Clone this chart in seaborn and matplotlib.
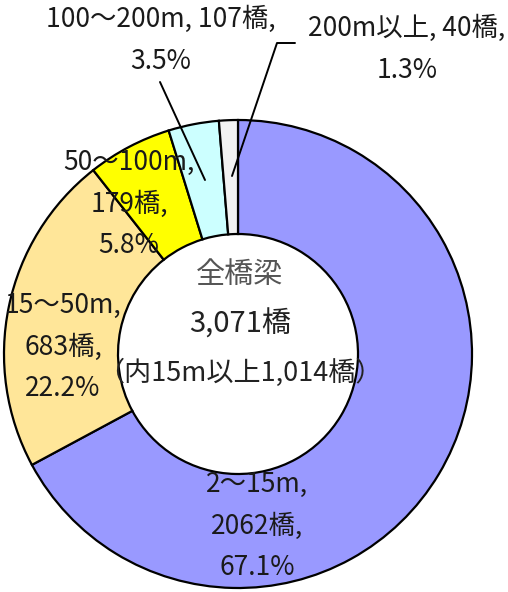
import numpy as np
import pandas as pd
import matplotlib.pyplot as plt
import seaborn as sns

# Bridge counts by length class
categories = ['2～15m', '15～50m', '50～100m', '100～200m', '200m以上']
counts = [2062, 683, 179, 107, 40]
shares = [67.1, 22.2, 5.8, 3.5, 1.3]
colors = ['#9999FF', '#FFE699', '#FFFF00', '#CCFFFF', '#F2F2F2']

center_title = '全橋梁'
center_total = '3,071橋'
center_note = '（内15m以上1,014橋）'

sns.set_theme(style='white')
plt.rcParams['font.family'] = ['Noto Sans CJK JP', 'DejaVu Sans']

W, H = 508, 592
fig = plt.figure(figsize=(W / 100, H / 100), dpi=100)
ax = fig.add_axes([0, 0, 1, 1])

df = pd.DataFrame({'cat': categories, 'n': counts, 'pct': shares})

cx, cy, r_out, r_in = 238, H - 354, 234, 120
ax.pie(df['n'], colors=colors, startangle=90, counterclock=False,
       center=(cx, cy), radius=r_out,
       wedgeprops=dict(width=r_out - r_in, edgecolor='black', linewidth=1.6))

ax.set_xlim(0, W)
ax.set_ylim(0, H)
ax.set_aspect('equal')
ax.axis('off')

def py(y):
    return H - y

fs = 19
tc = '#1a1a1a'
ls = 1.7

def lab(i):
    return f"{df['cat'][i]},", f"{df['n'][i]}橋,", f"{df['pct'][i]:.1f}%"

# 2~15m
a, b, c = lab(0)
ax.text(257, py(526), f"{a}\n{b}\n{c}", ha='center', va='center', fontsize=fs,
        color=tc, linespacing=ls)
# 15~50m
a, b, c = lab(1)
ax.text(63, py(347), f"{a}\n{b}\n{c}", ha='center', va='center', fontsize=fs,
        color=tc, linespacing=ls)
# 50~100m
a, b, c = lab(2)
ax.text(129, py(204), f"{a}\n{b}\n{c}", ha='center', va='center', fontsize=fs,
        color=tc, linespacing=ls)
# 100~200m
a, b, c = lab(3)
ax.text(161, py(40), f"{a} {b}\n{c}", ha='center', va='center', fontsize=fs,
        color=tc, linespacing=ls)
# 200m以上
a, b, c = lab(4)
ax.text(407, py(49), f"{a} {b}\n{c}", ha='center', va='center', fontsize=fs,
        color=tc, linespacing=ls)

# leader lines
ax.plot([160, 205], [py(82), py(180)], color='black', lw=1.4)
ax.plot([232, 277, 295], [py(176), py(43), py(43)], color='black', lw=1.4)

# centre text
ax.text(cx + 2, py(275), center_title, ha='center', va='center', fontsize=21, color='#555555')
ax.text(cx + 2, py(325), center_total, ha='center', va='center', fontsize=21, color='#222222')
ax.text(cx + 2, py(373), center_note, ha='center', va='center', fontsize=19.5, color='#222222')

fig.savefig('out.png', dpi=100)
